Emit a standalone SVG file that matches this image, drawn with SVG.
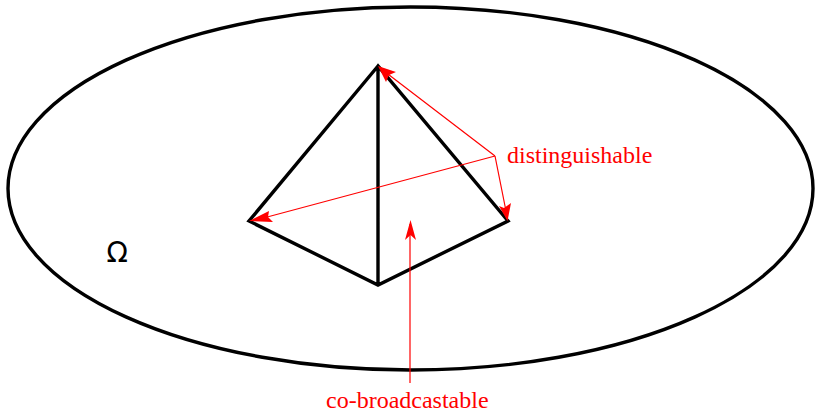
<svg xmlns="http://www.w3.org/2000/svg" width="815" height="412" viewBox="0 0 815 412">
<style>
.k{fill:none;stroke:#000;stroke-width:3.4;stroke-linejoin:miter}
.r{fill:none;stroke:#f00;stroke-width:1.2}
.h{fill:#f00;stroke:none}
.t{font-family:"Liberation Serif","Times New Roman",serif;font-size:24px;fill:#f00}
</style>
<rect width="815" height="412" fill="#fff"/>
<g id="omega"><ellipse class="k" cx="410.500" cy="188.500" rx="402.500" ry="181.500"/><text x="106.500" y="262" style="font-family:'DejaVu Sans',sans-serif;font-size:28px;fill:#000">Ω</text></g>
<g id="simplex"><path class="k" d="M378 66L249 221L378 285L508 221ZM378 66V285"/></g>
<g id="connectors">
<path class="r" d="M495 156L380 68M495 156L256 220M495 156L507 216M410 383V224"/>
<path class="h" d="M378 66L396 72L389 75L386 82Z"/>
<path class="h" d="M249 221L269 211L268 217L273 222Z"/>
<path class="h" d="M507.500 221L499 206L504 208L511 203Z"/>
<path class="h" d="M410.500 220L416 240L410.500 235L405 240Z"/>
</g>
<g id="labels"><text class="t" x="507" y="163">distinguishable</text><text class="t" x="326" y="407.500">co-broadcastable</text></g>
</svg>
